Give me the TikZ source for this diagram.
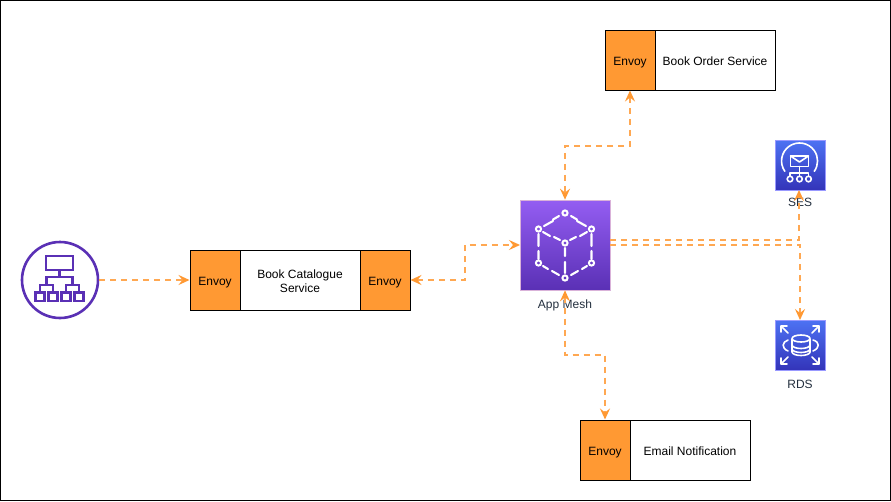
\documentclass[tikz,border=0pt]{standalone}
\usepackage{fontspec}
\setmainfont{Liberation Sans}
\usetikzlibrary{arrows.meta}
\definecolor{flow}{HTML}{FF9933}
\definecolor{lbpurple}{HTML}{5A30B5}
\definecolor{labelgrey}{HTML}{232F3E}
\definecolor{mtop}{HTML}{945DF2}
\definecolor{mbot}{HTML}{5A30B5}
\definecolor{btop}{HTML}{4D72F3}
\definecolor{bbot}{HTML}{3334B9}
\newcommand{\lowered}[2]{\raisebox{-#1pt}[0pt][0pt]{#2}}
\tikzset{
  x=1pt,y=-1pt,
  envoybox/.style={draw=black,line width=1pt,fill=flow,minimum width=50pt,minimum height=60pt,inner sep=0pt,font=\fontsize{12}{14}\selectfont,text=black},
  svcbox/.style={draw=black,line width=1pt,fill=white,minimum height=60pt,inner sep=0pt,align=center,font=\fontsize{12}{14}\selectfont,text=black},
  iconlabel/.style={inner sep=0pt,font=\fontsize{12}{14}\selectfont,text=labelgrey},
  meshicon/.style={draw=white!70!violet,line width=.7pt,minimum width=90pt,minimum height=90pt,inner sep=0pt,top color=mtop,bottom color=mbot},
  awsicon/.style={draw=white!60!blue,line width=.7pt,minimum width=50pt,minimum height=50pt,inner sep=0pt,top color=btop,bottom color=bbot},
  flowline/.style={draw=flow!85!white,line width=1.8pt,dash pattern=on 6pt off 5pt,>={Stealth[length=11pt,width=10pt,inset=4pt,flow]}},
  white line/.style={draw=white,line width=2.1pt,line cap=round,line join=round},
  white thin/.style={draw=white,line width=1.6pt,line cap=round,line join=round},
  lb line/.style={draw=lbpurple,line width=2.4pt,line join=miter}
}
\begin{document}
\begin{tikzpicture}
\useasboundingbox (0,0) rectangle (891,501);
\fill[white] (0,0) rectangle (891,501);
\draw[black,line width=1pt] (.5,.5) rectangle (890.5,500.5);

% load balancer
\node[circle,draw=lbpurple,line width=2.6pt,minimum size=76pt,inner sep=0pt] (lb) at (60,280) {};
\draw[lb line] (46,256) rectangle (73,270);
\draw[lb line] (59.5,270) -- (59.5,277) (46.5,285) -- (46.5,277) -- (72.5,277) -- (72.5,285)
  (40,292) -- (40,285) -- (53,285) -- (53,292) (66,292) -- (66,285) -- (79,285) -- (79,292);
\foreach \bx in {40,53,66,79}{\draw[lb line] (\bx-4.5,292.5) rectangle (\bx+4.5,301);}

% catalogue
\node[svcbox,minimum width=120pt] (cat) at (300,280) {\lowered{12}{\begin{tabular}[b]{@{}c@{}}Book Catalogue\\[-.6pt]Service\end{tabular}}};
\node[envoybox] (catl) at (215,280) {\lowered{5.4}{Envoy}};
\node[envoybox] (catr) at (385,280) {\lowered{5.4}{Envoy}};

% order
\node[svcbox,minimum width=120pt] (ord) at (715,60) {\lowered{5.2}{Book Order Service}};
\node[envoybox] (orde) at (630,60) {\lowered{5.4}{Envoy}};

% email
\node[svcbox,minimum width=120pt] (eml) at (690,450) {\lowered{5.2}{Email Notification}};
\node[envoybox] (emle) at (605,450) {\lowered{5.4}{Envoy}};

% app mesh
\node[meshicon] (mesh) at (565,245) {};
\node[iconlabel] (meshl) at (565,308) {\lowered{0}{App Mesh}};
\draw[white line] (559,216) -- (553,219.5) (571,216) -- (577,219.5)
  (543,232) -- (550,236) (587,232) -- (580,236) (553,221) -- (544,226) (577,221) -- (586,226)
  (538.5,234) -- (538.5,246) (538.5,251) -- (538.5,259)
  (591.5,234) -- (591.5,246) (591.5,251) -- (591.5,259)
  (565,248) -- (565,256) (565,262) -- (565,273)
  (559,275) -- (552,271) (571,275) -- (578,271)
  (560,240) -- (554,237) (570,240) -- (576,237)
  (543,266) -- (548,269) (587,266) -- (582,269);
\foreach \mx/\my in {565/213,538.5/229,591.5/229,565/243,538.5/263,591.5/263,565/278}{
  \draw[white,line width=2pt] (\mx,\my) circle (2.6pt);}

% ses
\node[awsicon] (ses) at (800,165) {};
\node[iconlabel] (sesl) at (800,206) {\lowered{0}{SES}};
\draw[white thin] (784.8,171.3) arc[start angle=215,end angle=-35,radius=18pt];
\draw[white thin] (790.5,156) rectangle (808.5,166.5);
\draw[white thin] (790.5,156) -- (799.5,162) -- (808.5,156);
\draw[white thin] (799.5,166.5) -- (799.5,176) (790,176) -- (790,173) -- (808.5,173) -- (808.5,176);
\foreach \sx in {790,799.5,808.5}{\draw[white thin] (\sx,179) circle (2.8pt);}

% rds
\node[awsicon] (rds) at (800,345) {};
\node[iconlabel] (rdsl) at (800,388) {\lowered{0}{RDS}};
\draw[white thin] (792,339) -- (792,352) arc[x radius=9pt,y radius=3.5pt,start angle=180,end angle=360] -- (810,339);
\draw[white thin] (801,338.5) ellipse[x radius=9pt,y radius=3.5pt];
\draw[white thin] (792,345) arc[x radius=9pt,y radius=3.5pt,start angle=180,end angle=360];
\draw[white thin] (792,349) arc[x radius=9pt,y radius=3.5pt,start angle=180,end angle=360];
\draw[white thin] (788,333) -- (781,326) (781,332) -- (781,326) -- (787,326);
\draw[white thin] (812,333) -- (819,326) (819,332) -- (819,326) -- (813,326);
\draw[white thin] (788,357) -- (781,364) (781,358) -- (781,364) -- (787,364);
\draw[white thin] (812,357) -- (819,364) (819,358) -- (819,364) -- (813,364);
\draw[white thin] (788,340) .. controls (782,342) and (781,348) .. (788,351);
\draw[white thin] (813,340) .. controls (820,342) and (820,348) .. (813,351);

% connector anchors
\coordinate (meshW) at (520,245);
\coordinate (meshE1) at (610,240);
\coordinate (meshE2) at (610,245);
\coordinate (sesB) at (799,190);
\coordinate (rdsT) at (800,320);

% connectors
\draw[flowline,->] (lb.east) -- (catl.west);
\draw[flowline,<->] (catr.east) -- (465,280) -- (465,245) -- (meshW);
\draw[flowline,<->] (orde.south) -- (630,146) -- (565,146) -- (mesh.north);
\draw[flowline,<->] (mesh.south) -- (565,355) -- (605,355) -- (emle.north);
\draw[flowline,->] (meshE1) -- (799,240) -- (sesB);
\draw[flowline,->] (meshE2) -- (800,245) -- (rdsT);
\end{tikzpicture}
\end{document}
